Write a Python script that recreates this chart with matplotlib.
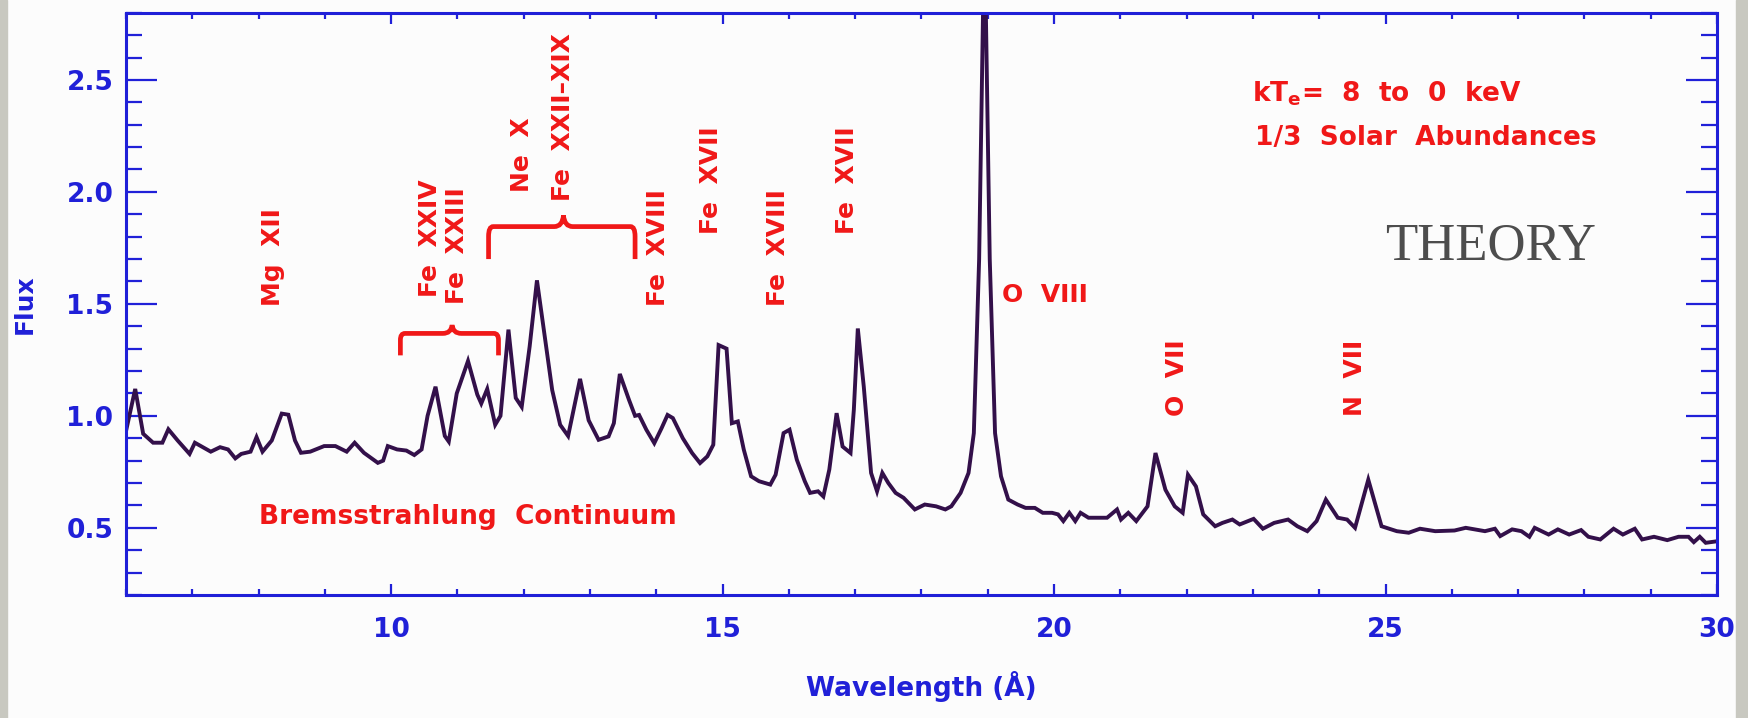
import matplotlib
matplotlib.use("Agg")
import matplotlib.pyplot as plt
from matplotlib.path import Path
from matplotlib.patches import PathPatch, Rectangle
from matplotlib.ticker import MultipleLocator, FormatStrFormatter

# model spectrum, flux vs wavelength (Angstrom)
wavelength = [6.00, 6.14, 6.26, 6.41, 6.55, 6.64, 6.78, 6.96, 7.04, 7.16, 7.28, 7.42, 7.54, 7.65, 7.74,
              7.88, 7.97, 8.06, 8.20, 8.35, 8.45, 8.55, 8.64, 8.78, 8.99, 9.16, 9.33, 9.45, 9.59, 9.80,
              9.88, 9.95, 10.09, 10.23, 10.35, 10.46, 10.55, 10.67, 10.81, 10.87, 10.99, 11.16, 11.30,
              11.36, 11.45, 11.57, 11.65, 11.77, 11.88, 11.97, 12.09, 12.20, 12.43, 12.55, 12.67, 12.85,
              12.98, 13.13, 13.28, 13.36, 13.45, 13.59, 13.68, 13.74, 13.85, 13.97, 14.08, 14.17, 14.25,
              14.40, 14.54, 14.66, 14.77, 14.86, 14.94, 15.06, 15.14, 15.23, 15.32, 15.43, 15.55, 15.72,
              15.80, 15.92, 16.01, 16.12, 16.24, 16.32, 16.44, 16.52, 16.61, 16.72, 16.81, 16.93, 16.98,
              17.04, 17.13, 17.24, 17.33, 17.41, 17.50, 17.61, 17.73, 17.90, 18.05, 18.22, 18.36, 18.45,
              18.59, 18.71, 18.79, 18.87, 18.95, 19.03, 19.11, 19.20, 19.31, 19.45, 19.57, 19.71, 19.83,
              19.97, 20.06, 20.14, 20.23, 20.32, 20.40, 20.52, 20.66, 20.80, 20.95, 21.01, 21.12, 21.24,
              21.41, 21.53, 21.68, 21.82, 21.94, 22.02, 22.14, 22.25, 22.43, 22.54, 22.69, 22.80, 23.01,
              23.15, 23.32, 23.53, 23.67, 23.82, 23.96, 24.10, 24.28, 24.42, 24.54, 24.74, 24.94, 25.17,
              25.35, 25.52, 25.75, 26.04, 26.21, 26.50, 26.65, 26.73, 26.91, 27.05, 27.17, 27.25, 27.46,
              27.60, 27.77, 27.95, 28.06, 28.24, 28.44, 28.58, 28.76, 28.87, 29.05, 29.25, 29.42, 29.57,
              29.65, 29.74, 29.83, 30.00]
flux = [0.93, 1.12, 0.92, 0.88, 0.88, 0.94, 0.89, 0.83, 0.88, 0.86, 0.84, 0.86, 0.85, 0.81, 0.83,
        0.84, 0.905, 0.84, 0.89, 1.01, 1.005, 0.89, 0.835, 0.84, 0.865, 0.865, 0.84, 0.88, 0.835, 0.79,
        0.80, 0.865, 0.85, 0.845, 0.825, 0.85, 1.00, 1.13, 0.91, 0.885, 1.10, 1.245, 1.095,
        1.055, 1.12, 0.96, 1.00, 1.385, 1.08, 1.04, 1.31, 1.605, 1.115, 0.96, 0.91, 1.165,
        0.98, 0.893, 0.908, 0.967, 1.187, 1.07, 1.00, 1.004, 0.938, 0.878, 0.945, 1.004, 0.99,
        0.90, 0.834, 0.789, 0.819, 0.871, 1.316, 1.30, 0.967, 0.975, 0.849, 0.73, 0.708, 0.693,
        0.737, 0.923, 0.938, 0.804, 0.708, 0.656, 0.663, 0.64, 0.76, 1.012, 0.863, 0.834, 1.027,
        1.39, 1.13, 0.745, 0.663, 0.745, 0.70, 0.656, 0.634, 0.582, 0.604, 0.596, 0.582, 0.596,
        0.656, 0.745, 0.923, 1.70, 3.20, 1.70, 0.923, 0.73, 0.626, 0.604, 0.589, 0.589, 0.567,
        0.567, 0.56, 0.53, 0.567, 0.53, 0.567, 0.545, 0.545, 0.545, 0.582, 0.537, 0.567, 0.53,
        0.596, 0.834, 0.67, 0.596, 0.567, 0.737, 0.685, 0.56, 0.507, 0.522, 0.537, 0.515, 0.54,
        0.496, 0.522, 0.537, 0.507, 0.485, 0.53, 0.626, 0.545, 0.537, 0.50, 0.715, 0.507, 0.485,
        0.478, 0.496, 0.485, 0.488, 0.50, 0.485, 0.496, 0.463, 0.493, 0.485, 0.46, 0.50, 0.47,
        0.493, 0.47, 0.49, 0.46, 0.448, 0.496, 0.47, 0.496, 0.448, 0.46, 0.445, 0.46, 0.46,
        0.436, 0.46, 0.433, 0.44]

# line identifications: (text, x centre, y bottom)
line_ids = [("Mg  XII", 8.22, 1.49), ("Fe  XXIV", 10.58, 1.53), ("Fe  XXIII", 10.99, 1.50),
            ("Ne  X", 11.97, 2.00), ("Fe  XXII\u2013XIX", 12.60, 1.96), ("Fe  XVIII", 14.03, 1.49),
            ("Fe  XVII", 14.83, 1.81), ("Fe  XVIII", 15.84, 1.49), ("Fe  XVII", 16.87, 1.81),
            ("O  VII", 21.85, 1.00), ("N  VII", 24.54, 1.00)]

# brace spans: (x left, x right, x tip, y level, y ends, y tip)
braces = [(10.14, 11.62, 10.92, 1.368, 1.27, 1.405),
          (11.47, 13.68, 12.60, 1.845, 1.70, 1.895)]

BLUE = "#2020d8"
RED = "#f01818"
LINE = "#33104a"

plt.rcParams["font.family"] = "DejaVu Sans"
plt.rcParams["font.weight"] = "bold"
plt.rcParams["mathtext.fontset"] = "dejavusans"

fig = plt.figure(figsize=(17.49, 7.18), dpi=100, facecolor="#fcfcfc")
fig.patches.append(Rectangle((0, 0), 0.004, 1, transform=fig.transFigure, color="#c8c8c0", zorder=-1))
fig.patches.append(Rectangle((0.9926, 0), 0.0074, 1, transform=fig.transFigure, color="#c8c8c0", zorder=-1))

ax = fig.add_axes([0.0720, 0.1713, 0.9097, 0.811])
ax.set_facecolor("#fcfcfc")
ax.plot(wavelength, flux, color=LINE, lw=2.8, solid_joinstyle="miter")
ax.set_xlim(6, 30)
ax.set_ylim(0.2, 2.8)

for s in ax.spines.values():
    s.set_color(BLUE)
    s.set_linewidth(2.2)

ax.xaxis.set_major_locator(MultipleLocator(5))
ax.xaxis.set_minor_locator(MultipleLocator(1))
ax.yaxis.set_major_locator(MultipleLocator(0.5))
ax.yaxis.set_minor_locator(MultipleLocator(0.1))
ax.yaxis.set_major_formatter(FormatStrFormatter("%.1f"))
ax.tick_params(which="both", direction="in", top=True, right=True, colors=BLUE, width=1.6,
               labelsize=19)
ax.xaxis.set_tick_params(which="major", length=8, pad=16)
ax.xaxis.set_tick_params(which="minor", length=4)
ax.yaxis.set_tick_params(which="major", length=22, pad=9)
ax.yaxis.set_tick_params(which="minor", length=11.5)
for lab in ax.get_xticklabels() + ax.get_yticklabels():
    lab.set_fontweight("bold")

ax.set_xlabel("Wavelength (\u00c5)", color=BLUE, fontsize=19, fontweight="bold")
ax.xaxis.set_label_coords(0.5, -0.13)
ax.set_ylabel("Flux", color=BLUE, fontsize=18, fontweight="bold")
ax.yaxis.set_label_coords(-0.056, 0.5)

for name, x, y in line_ids:
    ax.text(x, y, name, rotation=90, ha="center", va="bottom", color=RED, fontsize=18,
            fontweight="bold")

ax.text(19.21, 1.54, "O  VIII", ha="left", va="center", color=RED, fontsize=18, fontweight="bold")
ax.text(8.0, 0.55, "Bremsstrahlung  Continuum", ha="left", va="center", color=RED, fontsize=19,
        fontweight="bold")
ax.text(22.98, 2.44, r"kT$_{\mathbf{e}}$=  8  to  0  keV", ha="left", va="center", color=RED,
        fontsize=19, fontweight="bold")
ax.text(23.03, 2.24, "1/3  Solar  Abundances", ha="left", va="center", color=RED, fontsize=19,
        fontweight="bold")
ax.text(25.0, 1.756, "THEORY", ha="left", va="center", color="#4d4d4d", fontsize=38,
        family="Liberation Serif", fontweight="normal")

# curly braces grouping blended lines
for x0, x1, xm, yh, yb, yt in braces:
    rx, ry, w = 0.07, (yh - yb) * 0.3, 0.14
    verts = [(x0, yb), (x0, yh - ry), (x0, yh), (x0 + rx, yh),
             (xm - w, yh), (xm - w * 0.1, yh), (xm, yt),
             (xm + w * 0.1, yh), (xm + w, yh),
             (x1 - rx, yh), (x1, yh), (x1, yh - ry), (x1, yb)]
    codes = [Path.MOVETO, Path.LINETO, Path.CURVE3, Path.CURVE3,
             Path.LINETO, Path.CURVE3, Path.CURVE3,
             Path.CURVE3, Path.CURVE3,
             Path.LINETO, Path.CURVE3, Path.CURVE3, Path.LINETO]
    ax.add_patch(PathPatch(Path(verts, codes), fill=False, edgecolor=RED, lw=3.4))

fig.savefig("out.png", dpi=100, facecolor=fig.get_facecolor())
